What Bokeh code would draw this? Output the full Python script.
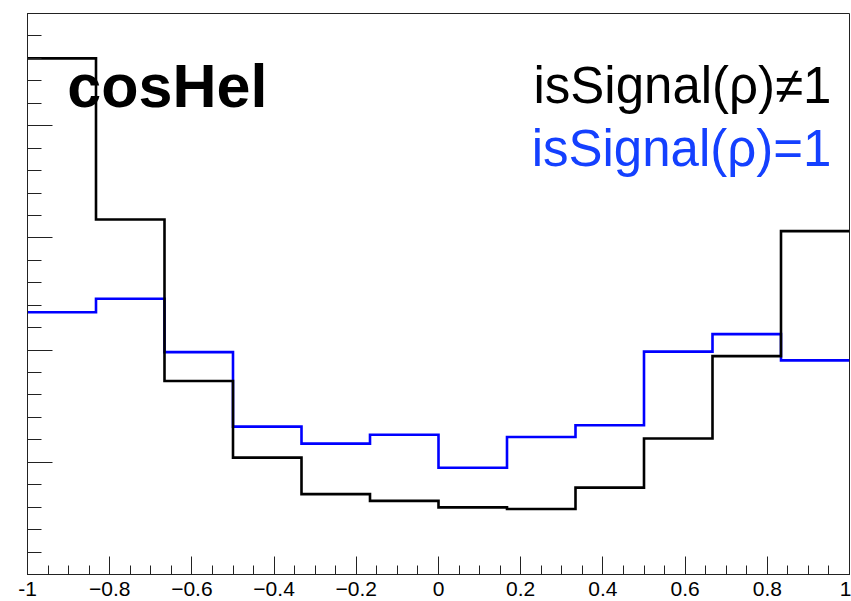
import numpy as np
from bokeh.plotting import figure
from bokeh.models import FixedTicker, Range1d, Label
from bokeh.embed import file_html
from bokeh.resources import INLINE

# cosHel distribution, 12 bins on [-1, 1], each histogram normalised to unit sum
bin_edges = np.linspace(-1.0, 1.0, 13)
not_signal = [0.2300, 0.1582, 0.0862, 0.0521, 0.0358, 0.0328,
              0.0299, 0.0292, 0.0387, 0.0606, 0.0973, 0.1530]
signal = [0.1169, 0.1229, 0.0991, 0.0659, 0.0583, 0.0623,
          0.0476, 0.0613, 0.0665, 0.0993, 0.1071, 0.0954]

x_ticks = [-1.0, -0.8, -0.6, -0.4, -0.2, 0.0, 0.2, 0.4, 0.6, 0.8, 1.0]
x_tick_labels = ["-1", "\u22120.8", "\u22120.6", "\u22120.4", "\u22120.2", "0",
                 "0.2", "0.4", "0.6", "0.8", "1"]
y_ticks = [0.0, 0.05, 0.10, 0.15, 0.20, 0.25]

title_text = "cosHel"
legend_texts = ["isSignal(\u03c1)\u22601", "isSignal(\u03c1)=1"]

FONT = "Liberation Sans"
BLUE = "#0000ff"

p = figure(width=851, height=601, output_backend="svg", toolbar_location=None,
           x_range=Range1d(-1, 1), y_range=Range1d(0, 0.25),
           min_border_left=27, min_border_right=2,
           min_border_top=13, min_border_bottom=27,
           background_fill_color="white", border_fill_color="white")

p.grid.visible = False
p.outline_line_color = "#222222"
p.outline_line_width = 1

# x axis: inward ticks, 4 subdivisions between labelled ticks
x_minor = np.round(np.arange(-1.0, 1.0001, 0.05), 2).tolist()
p.xaxis.ticker = FixedTicker(ticks=x_ticks, minor_ticks=x_minor)
p.xaxis.major_label_overrides = {t: s for t, s in zip(x_ticks, x_tick_labels)}
p.xaxis.major_tick_in = 18
p.xaxis.major_tick_out = 0
p.xaxis.minor_tick_in = 9
p.xaxis.minor_tick_out = 0
p.xaxis.major_label_standoff = 7
p.xaxis.major_label_text_font = FONT
p.xaxis.major_label_text_font_size = "21px"
p.xaxis.major_label_text_color = "black"
p.xaxis.axis_line_color = "#222222"
p.xaxis.major_tick_line_color = "#222222"
p.xaxis.minor_tick_line_color = "#222222"

# y axis: inward ticks only, 5 subdivisions, unlabelled
y_minor = np.round(np.arange(0.0, 0.2501, 0.01), 2).tolist()
p.yaxis.ticker = FixedTicker(ticks=y_ticks, minor_ticks=y_minor)
p.yaxis.major_label_overrides = {t: "" for t in y_ticks}
p.yaxis.major_tick_in = 25
p.yaxis.major_tick_out = 0
p.yaxis.minor_tick_in = 14
p.yaxis.minor_tick_out = 0
p.yaxis.major_label_standoff = 0
p.yaxis.axis_line_color = "#222222"
p.yaxis.major_tick_line_color = "#222222"
p.yaxis.minor_tick_line_color = "#222222"

# histogram outlines as steps over the bin edges
p.step(x=bin_edges, y=signal + [signal[-1]], mode="after",
       line_color=BLUE, line_width=2.6, line_join="miter")
p.step(x=bin_edges, y=not_signal + [not_signal[-1]], mode="after",
       line_color="black", line_width=2.6, line_join="miter")

p.add_layout(Label(x=-0.903, y=0.2176, text=title_text, text_font=FONT,
                   text_font_style="bold", text_font_size="61px",
                   text_color="black", text_align="left", text_baseline="alphabetic"))
p.add_layout(Label(x=0.956, y=0.2181, text=legend_texts[0], text_font=FONT,
                   text_font_size="51px", text_color="black",
                   text_align="right", text_baseline="alphabetic"))
p.add_layout(Label(x=0.956, y=0.1900, text=legend_texts[1], text_font=FONT,
                   text_font_size="51px", text_color="#1440ff",
                   text_align="right", text_baseline="alphabetic"))

open("out.html", "w").write(file_html(p, INLINE))
